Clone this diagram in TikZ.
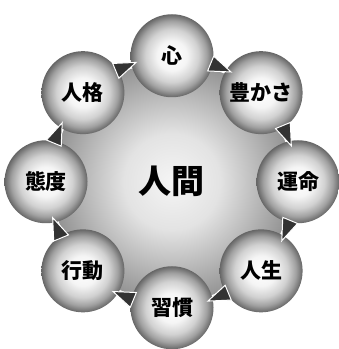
\documentclass[tikz,border=0pt]{standalone}
\usepackage{fontspec}
\newfontfamily\jp{Noto Sans CJK JP}
\usetikzlibrary{calc}
\pgfdeclareradialshading{sphereshade}{\pgfpoint{0bp}{0bp}}{color(0bp)=(white); color(9bp)=(white!96!black); color(16bp)=(black!18); color(21bp)=(black!37); color(25bp)=(black!60); color(50bp)=(black!60)}
\pgfdeclareradialshading{bigshade}{\pgfpoint{0bp}{0bp}}{color(0bp)=(black!4); color(10bp)=(black!11); color(25bp)=(black!42); color(50bp)=(black!42)}
\tikzset{
  ball/.style={circle, minimum size=83pt, inner sep=0pt, shade, shading=sphereshade,
    font=\jp\bfseries\fontsize{21}{21}\selectfont, text=black},
  bigtext/.style={font=\jp\bfseries\fontsize{33}{33}\selectfont, text=black},
  arrowtri/.style={fill=black!80, draw=white, line width=1pt, line join=miter}
}
\begin{document}
\begin{tikzpicture}[x=1pt,y=1pt]
\useasboundingbox (0,0) rectangle (339,349);
\coordinate (C) at (172,167.25);
\shade[shading=bigshade] (C) circle[radius=120pt];
\node[bigtext] (hub) at (C) {人間};
\node[ball] (n1) at ($(C)+(90:126pt)$) {心};
\node[ball] (n2) at ($(C)+(45:126pt)$) {豊かさ};
\node[ball] (n3) at ($(C)+(0:126pt)$) {運命};
\node[ball] (n4) at ($(C)+(-45:126pt)$) {人生};
\node[ball] (n5) at ($(C)+(-90:126pt)$) {習慣};
\node[ball] (n6) at ($(C)+(-135:126pt)$) {行動};
\node[ball] (n7) at ($(C)+(180:126pt)$) {態度};
\node[ball] (n8) at ($(C)+(135:126pt)$) {人格};
\foreach \a/\b/\ang in {n1/n2/67.5, n2/n3/22.5, n3/n4/-22.5, n4/n5/-67.5, n5/n6/-112.5, n6/n7/-157.5, n7/n8/157.5, n8/n1/112.5} {
  \coordinate (mid) at ($(\a)!0.5!(\b)$);
  \coordinate (tp) at ($(C)!124pt!(mid)$);
  \begin{scope}[shift={(tp)}, rotate=\ang-90]
    \draw[arrowtri] (-9.5,8) -- (12.5,0) -- (-9.5,-8) -- cycle;
  \end{scope}
}
\end{tikzpicture}
\end{document}
